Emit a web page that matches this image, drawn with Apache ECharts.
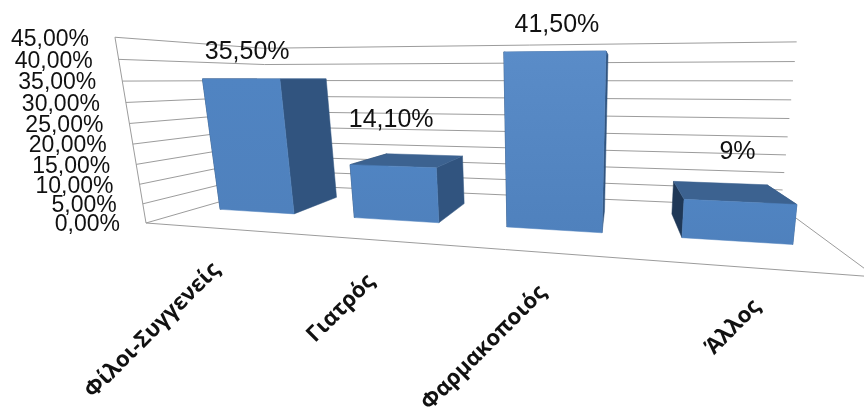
<!DOCTYPE html>
<html><head><meta charset="utf-8">
<style>html,body{margin:0;padding:0;background:#fff}#c{width:864px;height:414px}</style>
<script src="https://cdn.jsdelivr.net/npm/echarts@6/dist/echarts.min.js"></script>
</head><body><div id="c"></div>
<script>
const categories = ['Φίλοι-Συγγενείς','Γιατρός','Φαρμακοποιός','Άλλος'];
const values = [35.5,14.1,41.5,9];
const valueLabels = ['35,50%','14,10%','41,50%','9%'];
const tickValues = [0,5,10,15,20,25,30,35,40,45];
const tickLabels = ['0,00%','5,00%','10,00%','15,00%','20,00%','25,00%','30,00%','35,00%','40,00%','45,00%'];

// perspective box: floor corners [front-left, front-right, back-right, back-left]
const floorQuad = [[146,223],[876,277],[781,207],[278,185]];
const horizonY = 79, ceilRatio = 0.29, vanishX = 550, vanishY = 2642, heightBow = 0.08;
const barFront = 0.32, barBack = 0.73;
const barShare = [0.613,0.59,0.556,0.537];
const barShift = [0,0.015,0.017,0.010];
const valueLabelOffset = [[6,-27],[-2,-46],[2,-26],[-3,-50]];
const catLabelOffset = [[7,39],[17,40],[13,38],[10,36]];

function makeH(q){
  const [p0,p1,p2,p3]=q;
  const sx=p0[0]-p1[0]+p2[0]-p3[0], sy=p0[1]-p1[1]+p2[1]-p3[1];
  const dx1=p1[0]-p2[0], dx2=p3[0]-p2[0], dy1=p1[1]-p2[1], dy2=p3[1]-p2[1];
  const det=dx1*dy2-dx2*dy1;
  const g=(sx*dy2-dx2*sy)/det, h=(dx1*sy-sx*dy1)/det;
  const a=p1[0]-p0[0]+g*p1[0], b=p3[0]-p0[0]+h*p3[0], c=p0[0];
  const d=p1[1]-p0[1]+g*p1[1], e=p3[1]-p0[1]+h*p3[1], f=p0[1];
  return (u,v)=>{const w=g*u+h*v+1;return [(a*u+b*v+c)/w,(d*u+e*v+f)/w];};
}
const Hf=makeH(floorQuad);
function proj(u,h,z){
  const a=Hf(u,z);
  const cy=horizonY-(a[1]-horizonY)*ceilRatio;
  const hb=h+heightBow*h*(h-1);
  const y=a[1]+(cy-a[1])*hb;
  const x=a[0]+(vanishX-a[0])/(vanishY-a[1])*(y-a[1]);
  return [x,y];
}
function norm(p,cs){ return [(p[0]-cs.x)/cs.width, (cs.y+cs.height-p[1])/cs.height]; }

const GRID_COLOR='#9c9c9c';
function line(pts){
  return {type:'polyline',shape:{points:pts},style:{stroke:GRID_COLOR,lineWidth:1,fill:'none'},silent:true};
}
function renderWall(params,api){
  const cs=params.coordSys;
  const h=norm(api.coord([0,api.value(1)]),cs)[1];
  const idx=params.dataIndex;
  const kids=[
    line([proj(0,h,0),proj(0,h,1),proj(1,h,1)]),
    {type:'text',x:proj(0,h,0)[0]-26,y:proj(0,h,0)[1]+2,
     style:{text:tickLabels[idx],textAlign:'right',textVerticalAlign:'middle',
            font:'23px "Liberation Sans"',fill:'#111'}}
  ];
  if(idx===0){
    kids.push(line([proj(0,0,0),proj(0,1,0)]));
    kids.push(line([proj(0,0,0),proj(1,0,0),proj(1,0,1)]));
  }
  return {type:'group',children:kids};
}
function face(pts,fill){
  return {type:'polygon',shape:{points:pts},style:{fill:fill,stroke:fill,lineWidth:0.5}};
}
function renderBar(params,api){
  const cs=params.coordSys, i=params.dataIndex;
  const top=norm(api.coord([i,api.value(1)]),cs);
  const half=api.size([1,0])[0]*barShare[i]/2/cs.width;
  const u0=top[0]+barShift[i]-half, u1=top[0]+barShift[i]+half, h=top[1];
  const z0=barFront, z1=barBack;
  const P=proj;
  const frontFill=new echarts.graphic.LinearGradient(0,0,0,1,[{offset:0,color:i===2?'#5A8CC8':'#5084C2'},{offset:1,color:'#4F81BD'}]);
  const ft=P(u0,h,z0), fr=P(u1,h,z0);
  const c=[(ft[0]+fr[0])/2,(ft[1]+fr[1])/2];
  const vo=valueLabelOffset[i], co=catLabelOffset[i];
  const axisPt=proj(top[0],0,0);
  return {type:'group',children:[
    face([P(u0,0,z0),P(u0,0,z1),P(u0,h,z1),P(u0,h,z0)],'#1F3857'),
    face([P(u1,0,z0),P(u1,0,z1),P(u1,h,z1),P(u1,h,z0)],'#31547F'),
    face([P(u0,h,z0),P(u1,h,z0),P(u1,h,z1),P(u0,h,z1)],'#3C6290'),
    face([P(u0,0,z0),P(u1,0,z0),P(u1,h,z0),P(u0,h,z0)],frontFill),
    {type:'text',x:c[0]+vo[0],y:c[1]+vo[1],
     style:{text:valueLabels[i],textAlign:'center',textVerticalAlign:'middle',
            font:'25px "Liberation Sans"',fill:'#111'}},
    {type:'text',x:axisPt[0]+co[0],y:axisPt[1]+co[1],rotation:Math.PI/4,
     style:{text:categories[i],textAlign:'right',textVerticalAlign:'middle',
            font:'bold 22px "Open Sans"',fill:'#111'}}
  ]};
}
const chart=echarts.init(document.getElementById('c'),null,{renderer:'canvas'});
chart.setOption({
  animation:false,
  backgroundColor:'#fff',
  grid:{left:100,right:100,top:50,bottom:100},
  xAxis:{type:'category',data:categories,show:false},
  yAxis:{type:'value',min:0,max:45,interval:5,show:false},
  series:[
    {type:'custom',name:'grid',silent:true,z:1,renderItem:renderWall,
     data:tickValues.map(v=>[0,v]),encode:{x:0,y:1}},
    {type:'custom',name:'bars',silent:true,z:2,renderItem:renderBar,
     data:values.map((v,i)=>[i,v]),encode:{x:0,y:1}}
  ]
});
</script></body></html>
